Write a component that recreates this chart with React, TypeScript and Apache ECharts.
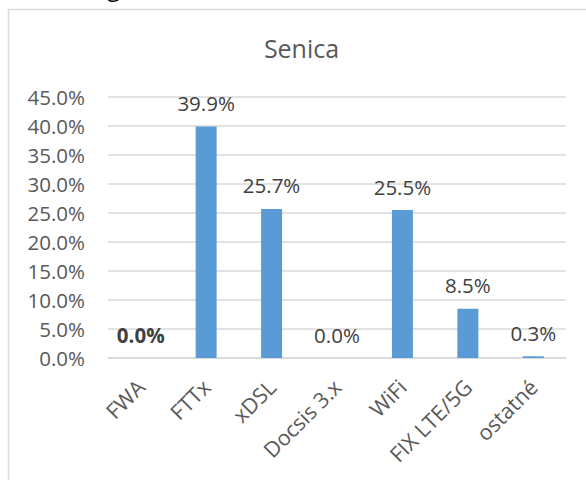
import React, { useEffect, useRef } from "react";
import * as echarts from "echarts";

const titleText = "Senica";
const categories = ["FWA", "FTTx", "xDSL", "Docsis 3.x", "WiFi", "FIX LTE/5G", "ostatné"];
const shares = [0.0, 39.9, 25.7, 0.0, 25.5, 8.5, 0.3];
const boldLabelIndex = [0];
const yMin = 0;
const yMax = 45;
const yStep = 5;

const FONT = "Open Sans";

export default function App() {
  const ref = useRef<HTMLDivElement>(null);
  useEffect(() => {
    if (!ref.current) return;
    const chart = echarts.init(ref.current, null, { renderer: "svg" });
    const pct = (v: number) => `${v.toFixed(1)}%`;
    chart.setOption({
      animation: false,
      backgroundColor: "#ffffff",
      textStyle: { fontFamily: FONT },
      graphic: [
        {
          type: "rect",
          shape: { x: 8.5, y: 9.5, width: 620, height: 520 },
          style: { fill: "none", stroke: "#d9d9d9", lineWidth: 1.5 },
          silent: true,
        },
        {
          type: "text",
          x: 107,
          y: -26,
          style: {
            text: "g",
            fontFamily: FONT,
            fontSize: 24,
            fill: "#000000",
            textVerticalAlign: "top",
          },
          silent: true,
        },
        {
          type: "text",
          x: 301.5,
          y: 47.5,
          style: {
            text: titleText,
            fontFamily: FONT,
            fontSize: 25,
            fill: "#595959",
            textAlign: "center",
            textVerticalAlign: "middle",
          },
          silent: true,
        },
      ],
      grid: { left: 108, right: 20, top: 97, bottom: 122, containLabel: false },
      xAxis: {
        type: "category",
        data: categories,
        axisLine: { show: true, lineStyle: { color: "#d9d9d9", width: 1.5 } },
        axisTick: { show: false },
        axisLabel: {
          interval: 0,
          rotate: 45,
          margin: 25,
          fontSize: 21.5,
          fontFamily: FONT,
          color: "#595959",
        },
      },
      yAxis: {
        type: "value",
        min: yMin,
        max: yMax,
        interval: yStep,
        axisLine: { show: false },
        axisTick: { show: false },
        splitLine: { lineStyle: { color: "#d9d9d9", width: 1.5 } },
        axisLabel: {
          margin: 23,
          fontSize: 20.5,
          fontFamily: FONT,
          color: "#595959",
          formatter: (v: number) => pct(v),
        },
      },
      series: [
        {
          type: "bar",
          barWidth: 21,
          itemStyle: { color: "#5b9bd5" },
          label: {
            show: true,
            position: "top",
            distance: 13,
            fontSize: 20.5,
            fontFamily: FONT,
            color: "#404040",
            formatter: (p: any) => pct(p.value),
          },
          data: shares.map((v, i) =>
            boldLabelIndex.includes(i)
              ? { value: v, label: { fontWeight: "bold" } }
              : v
          ),
        },
      ],
    });
    return () => chart.dispose();
  }, []);
  return (
    <div
      ref={ref}
      style={{ position: "fixed", left: 0, top: 0, width: 586, height: 480 }}
    />
  );
}
